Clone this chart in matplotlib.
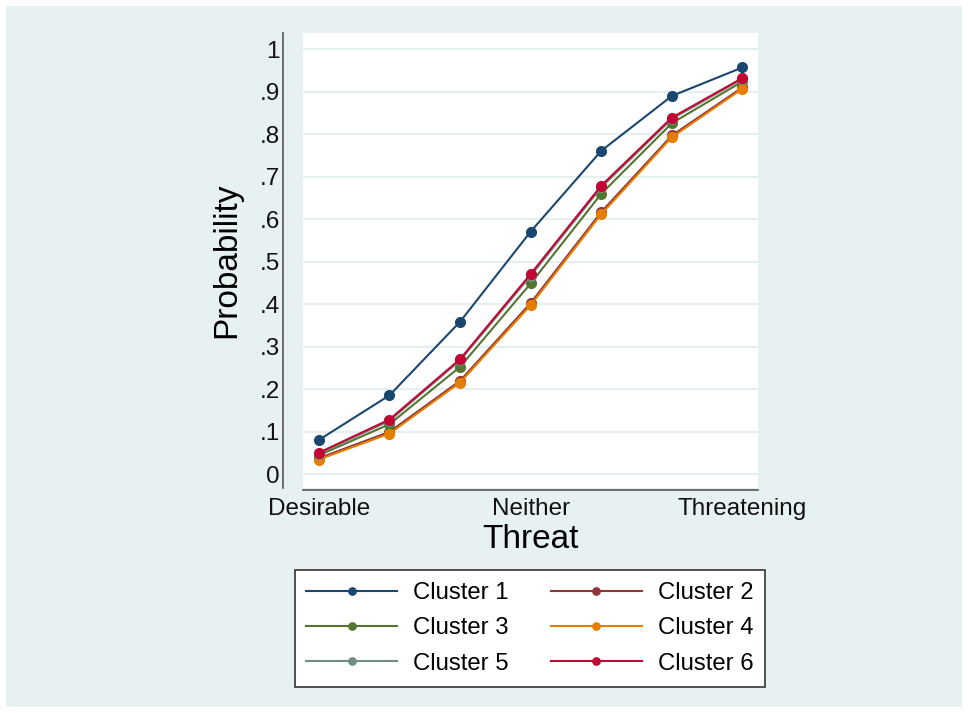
import matplotlib
matplotlib.use('Agg')
import matplotlib.pyplot as plt
from matplotlib.patches import Rectangle

plt.rcParams['font.family'] = ['Liberation Sans', 'DejaVu Sans']

# data
x = [1, 2, 3, 4, 5, 6, 7]
cluster1 = [0.081, 0.186, 0.359, 0.571, 0.761, 0.890, 0.957]
cluster2 = [0.038, 0.100, 0.220, 0.403, 0.617, 0.797, 0.910]
cluster3 = [0.045, 0.118, 0.253, 0.449, 0.660, 0.826, 0.924]
cluster4 = [0.035, 0.096, 0.216, 0.398, 0.612, 0.793, 0.907]
cluster5 = [0.049, 0.126, 0.268, 0.467, 0.675, 0.836, 0.930]
cluster6 = [0.051, 0.129, 0.271, 0.471, 0.679, 0.839, 0.932]
names = ['Cluster 1', 'Cluster 2', 'Cluster 3', 'Cluster 4', 'Cluster 5', 'Cluster 6']
colors = ['#1A476F', '#90353B', '#55752F', '#E37E00', '#6E8E84', '#C10534']

yticks = [0, .1, .2, .3, .4, .5, .6, .7, .8, .9, 1]
ytick_labels = ['0', '.1', '.2', '.3', '.4', '.5', '.6', '.7', '.8', '.9', '1']
xticks = [1, 4, 7]
xtick_labels = ['Desirable', 'Neither', 'Threatening']

bg = '#E8F1F2'
W, H = 968, 713
fig = plt.figure(figsize=(W / 100, H / 100), dpi=100, facecolor='white')
fig.patches.append(Rectangle((6 / W, 6 / H), 956 / W, 701 / H, transform=fig.transFigure,
                             facecolor=bg, edgecolor='none', zorder=-5))

ax = fig.add_axes([303 / W, 1 - 488 / H, 455 / W, 455 / H])
ax.set_facecolor('white')

series = [cluster1, cluster2, cluster3, cluster4, cluster5, cluster6]
lines = []
for vals, name, c in zip(series, names, colors):
    ln, = ax.plot(x, vals, color=c, lw=1.5, marker='o', ms=7, mec=c, mfc=c, label=name, zorder=3)
    lines.append(ln)

ax.set_xlim(0.775, 7.22)
ax.set_ylim(-0.032, 1.038)
ax.set_yticks(yticks)
ax.set_yticklabels(ytick_labels)
ax.set_xticks(xticks)
ax.set_xticklabels(xtick_labels)
ax.yaxis.grid(True, color='#E6EFF0', lw=1.5, zorder=0)
ax.tick_params(axis='both', length=0, labelsize=17.5, colors='#111111')
ax.tick_params(axis='y', pad=2.5)
ax.tick_params(axis='x', pad=5.5)

for s in ['top', 'right']:
    ax.spines[s].set_visible(False)
ax.spines['left'].set_position(('outward', 14.4))
ax.spines['bottom'].set_position(('outward', 1.4))
for s in ['left', 'bottom']:
    ax.spines[s].set_color('#555555')
    ax.spines[s].set_linewidth(1.2)

ax.set_ylabel('Probability', fontsize=24, labelpad=12)
ax.set_xlabel('Threat', fontsize=24, labelpad=3)

# row-wise order like the original legend
order = [0, 2, 4, 1, 3, 5]
leg = fig.legend([lines[i] for i in order], [names[i] for i in order],
                 loc='center', bbox_to_anchor=(530 / W, 1 - 628.5 / H), ncol=2, fontsize=17.2,
                 frameon=True, fancybox=False, edgecolor='#333333', facecolor='white',
                 framealpha=1, handlelength=3.8, handletextpad=0.68, columnspacing=1.75,
                 labelspacing=0.55, borderpad=0.5, markerscale=0.75)
leg.get_frame().set_linewidth(1.2)

fig.savefig('out.png', dpi=100, facecolor='white')
